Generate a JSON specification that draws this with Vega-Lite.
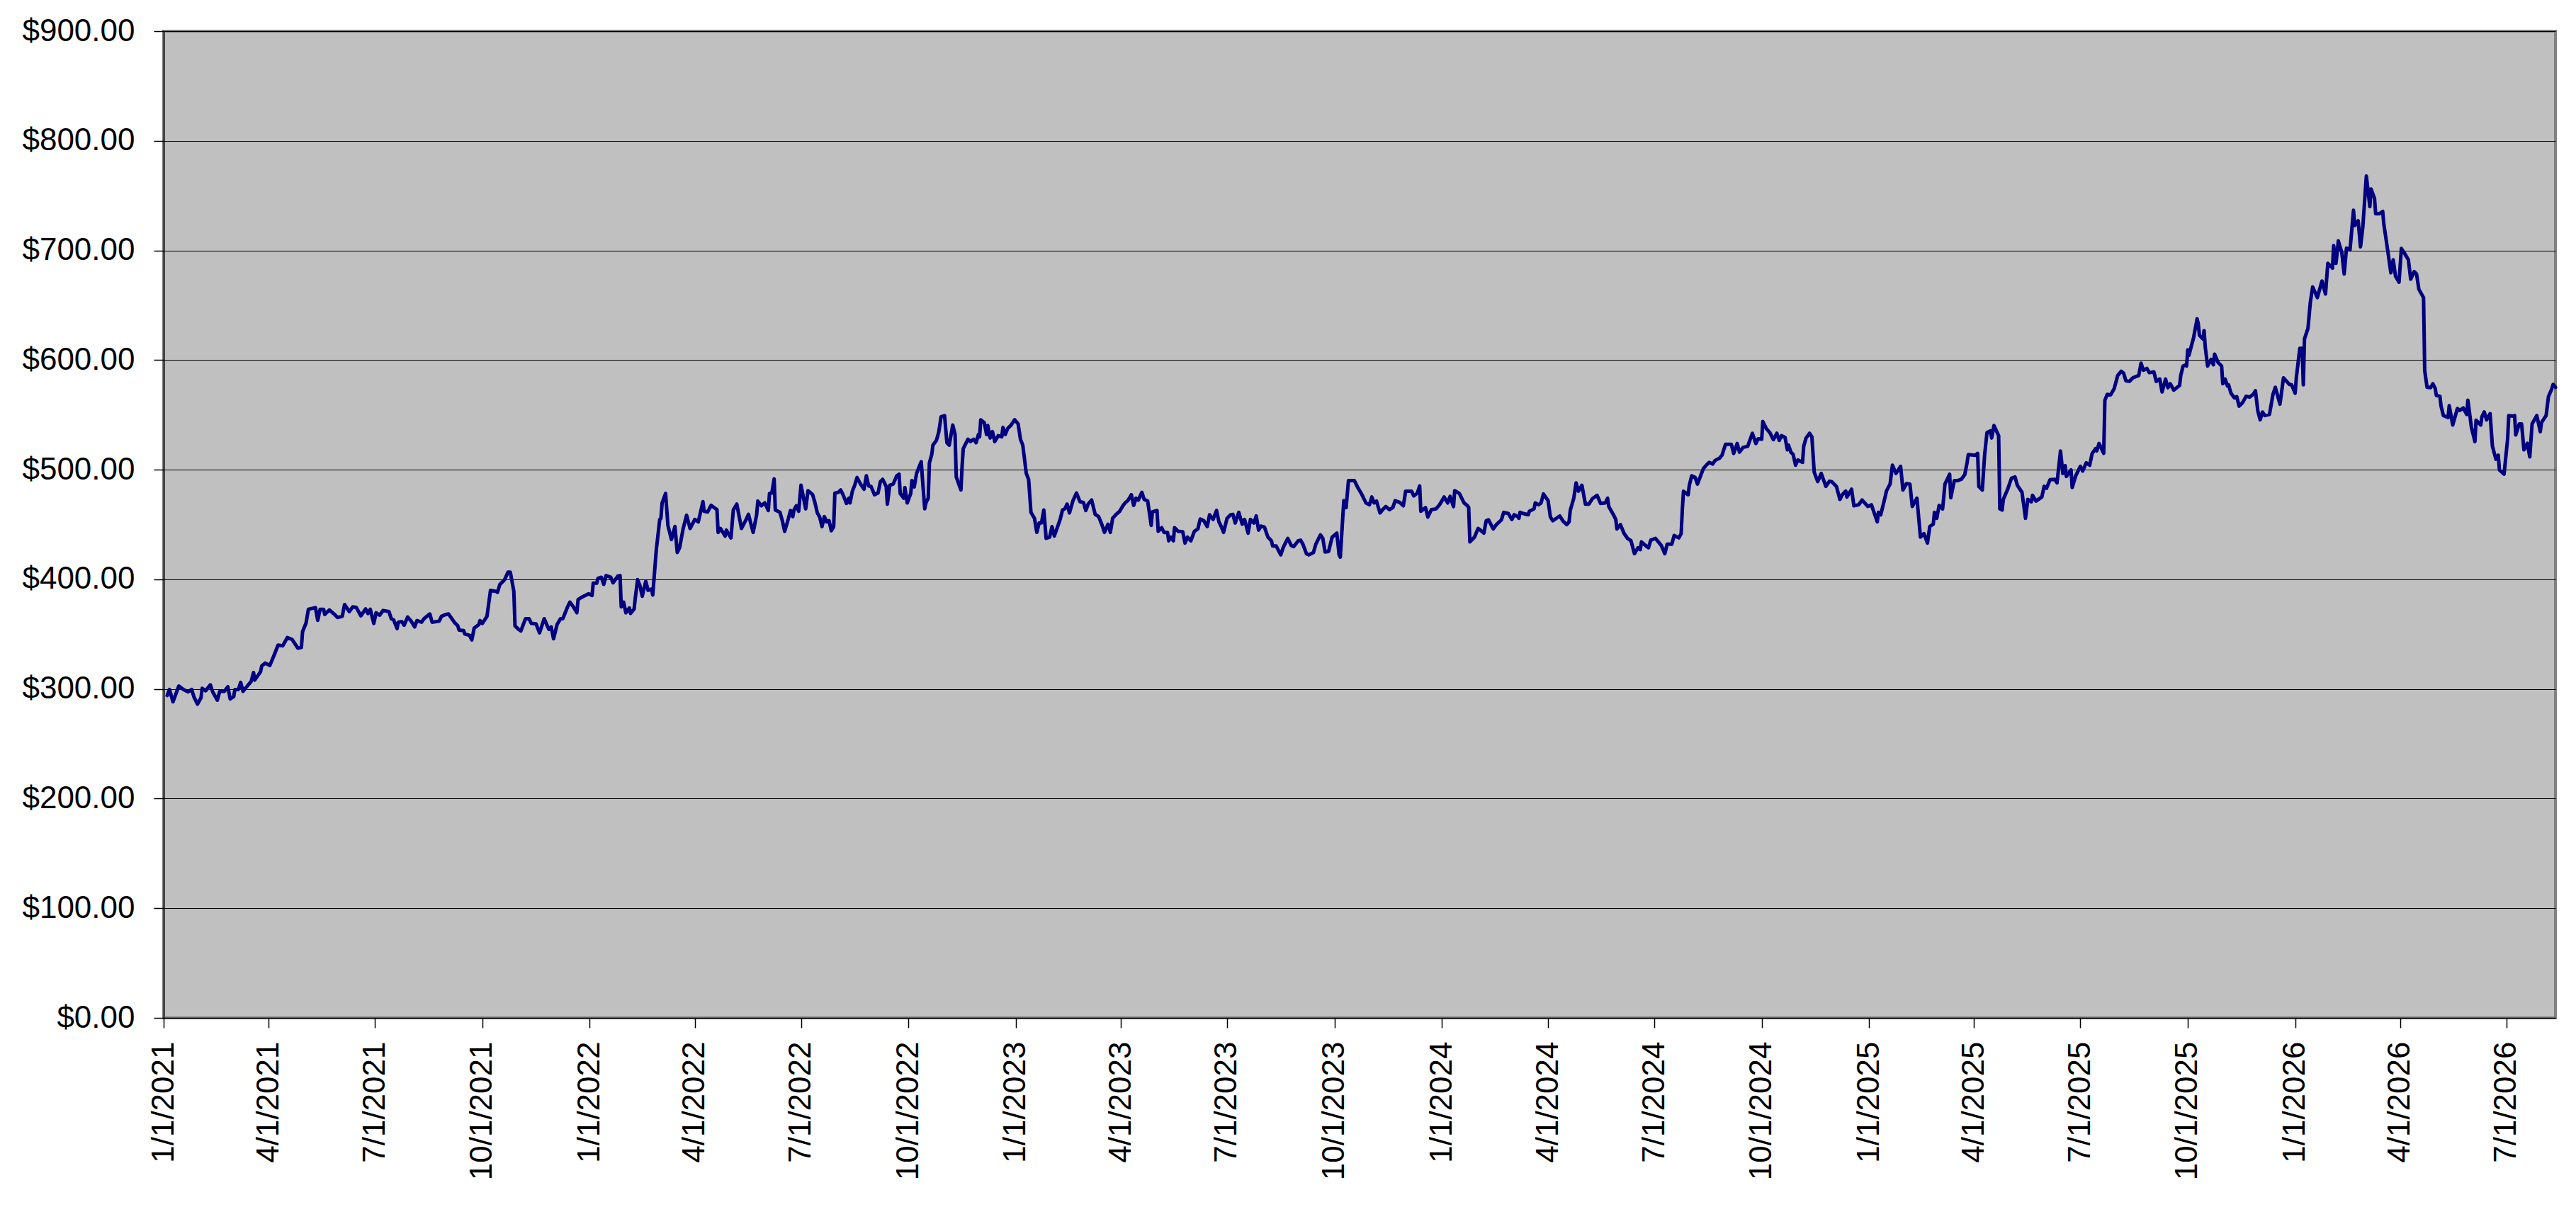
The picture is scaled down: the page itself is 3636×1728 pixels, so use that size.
{
"$schema":"https://vega.github.io/schema/vega-lite/v6.json",
"width":3376,"height":1393,
"autosize":{"type":"none"},
"padding":{"left":231,"top":44,"right":29,"bottom":247},
"background":"white",
"config":{"view":{"fill":"#C0C0C0","stroke":"#808080","strokeWidth":4},"font":"Liberation Sans"},
"data":{"values":[
{"d":"2021/01/04","v":294.1},{"d":"2021/01/06","v":299.5},{"d":"2021/01/09","v":288.3},{"d":"2021/01/14","v":302.7},{"d":"2021/01/18","v":299.5},{"d":"2021/01/22","v":297.4},{"d":"2021/01/25","v":299.5},{"d":"2021/01/27","v":292.6},{"d":"2021/01/30","v":286.2},{"d":"2021/02/02","v":292.0},{"d":"2021/02/03","v":300.6},{"d":"2021/02/06","v":298.4},{"d":"2021/02/10","v":303.8},{"d":"2021/02/12","v":297.4},{"d":"2021/02/16","v":289.8},{"d":"2021/02/18","v":297.8},{"d":"2021/02/22","v":297.8},{"d":"2021/02/25","v":302.1},{"d":"2021/02/27","v":290.9},{"d":"2021/03/02","v":293.0},{"d":"2021/03/03","v":299.5},{"d":"2021/03/06","v":299.5},{"d":"2021/03/08","v":306.0},{"d":"2021/03/10","v":297.8},{"d":"2021/03/12","v":300.6},{"d":"2021/03/17","v":307.0},{"d":"2021/03/19","v":315.0},{"d":"2021/03/20","v":308.1},{"d":"2021/03/25","v":315.7},{"d":"2021/03/26","v":321.0},{"d":"2021/03/29","v":323.6},{"d":"2021/04/02","v":321.5},{"d":"2021/04/06","v":331.8},{"d":"2021/04/09","v":340.0},{"d":"2021/04/13","v":339.3},{"d":"2021/04/17","v":346.9},{"d":"2021/04/21","v":345.2},{"d":"2021/04/26","v":337.2},{"d":"2021/04/29","v":337.8},{"d":"2021/04/30","v":352.3},{"d":"2021/05/03","v":360.2},{"d":"2021/05/05","v":372.7},{"d":"2021/05/11","v":374.2},{"d":"2021/05/13","v":362.6},{"d":"2021/05/15","v":372.7},{"d":"2021/05/18","v":372.7},{"d":"2021/05/19","v":368.0},{"d":"2021/05/23","v":372.1},{"d":"2021/05/27","v":368.4},{"d":"2021/05/30","v":365.2},{"d":"2021/06/03","v":366.3},{"d":"2021/06/05","v":377.0},{"d":"2021/06/09","v":370.6},{"d":"2021/06/12","v":374.9},{"d":"2021/06/15","v":374.4},{"d":"2021/06/19","v":366.7},{"d":"2021/06/23","v":373.1},{"d":"2021/06/25","v":368.8},{"d":"2021/06/27","v":372.7},{"d":"2021/06/30","v":359.8},{"d":"2021/07/02","v":369.5},{"d":"2021/07/05","v":367.3},{"d":"2021/07/08","v":371.6},{"d":"2021/07/13","v":370.6},{"d":"2021/07/15","v":364.1},{"d":"2021/07/17","v":363.0},{"d":"2021/07/20","v":355.1},{"d":"2021/07/21","v":360.9},{"d":"2021/07/24","v":361.5},{"d":"2021/07/26","v":358.1},{"d":"2021/07/29","v":365.6},{"d":"2021/08/01","v":361.9},{"d":"2021/08/04","v":356.6},{"d":"2021/08/06","v":362.4},{"d":"2021/08/10","v":360.9},{"d":"2021/08/12","v":364.1},{"d":"2021/08/17","v":368.4},{"d":"2021/08/19","v":360.9},{"d":"2021/08/25","v":361.9},{"d":"2021/08/27","v":366.3},{"d":"2021/08/31","v":368.0},{"d":"2021/09/02","v":368.4},{"d":"2021/09/07","v":360.9},{"d":"2021/09/10","v":357.6},{"d":"2021/09/11","v":353.8},{"d":"2021/09/15","v":353.3},{"d":"2021/09/16","v":350.1},{"d":"2021/09/20","v":349.0},{"d":"2021/09/22","v":344.7},{"d":"2021/09/24","v":355.5},{"d":"2021/09/28","v":358.7},{"d":"2021/09/29","v":362.4},{"d":"2021/10/01","v":359.8},{"d":"2021/10/05","v":366.3},{"d":"2021/10/08","v":389.9},{"d":"2021/10/13","v":388.9},{"d":"2021/10/14","v":388.2},{"d":"2021/10/16","v":395.3},{"d":"2021/10/20","v":399.6},{"d":"2021/10/23","v":406.5},{"d":"2021/10/25","v":406.5},{"d":"2021/10/28","v":388.9},{"d":"2021/10/29","v":357.6},{"d":"2021/11/01","v":354.4},{"d":"2021/11/03","v":352.9},{"d":"2021/11/07","v":364.1},{"d":"2021/11/10","v":364.1},{"d":"2021/11/12","v":359.8},{"d":"2021/11/16","v":359.4},{"d":"2021/11/19","v":351.2},{"d":"2021/11/23","v":364.1},{"d":"2021/11/27","v":354.4},{"d":"2021/11/29","v":356.6},{"d":"2021/12/01","v":345.8},{"d":"2021/12/04","v":358.7},{"d":"2021/12/07","v":364.1},{"d":"2021/12/09","v":364.1},{"d":"2021/12/13","v":374.9},{"d":"2021/12/15","v":379.2},
{"d":"2021/12/18","v":374.9},{"d":"2021/12/21","v":369.5},{"d":"2021/12/22","v":381.4},{"d":"2021/12/25","v":383.6},{"d":"2021/12/29","v":385.7},{"d":"2021/12/31","v":386.8},{"d":"2022/01/03","v":385.3},{"d":"2022/01/04","v":396.5},{"d":"2022/01/07","v":396.5},{"d":"2022/01/08","v":400.8},{"d":"2022/01/11","v":401.9},{"d":"2022/01/13","v":395.4},{"d":"2022/01/15","v":403.4},{"d":"2022/01/19","v":401.9},{"d":"2022/01/21","v":396.9},{"d":"2022/01/25","v":402.9},{"d":"2022/01/27","v":403.4},{"d":"2022/01/28","v":374.9},{"d":"2022/01/30","v":379.2},{"d":"2022/02/01","v":369.5},{"d":"2022/02/04","v":373.9},{"d":"2022/02/05","v":368.9},{"d":"2022/02/08","v":372.8},{"d":"2022/02/09","v":382.5},{"d":"2022/02/11","v":399.7},{"d":"2022/02/13","v":394.3},{"d":"2022/02/15","v":384.6},{"d":"2022/02/18","v":398.2},{"d":"2022/02/20","v":390.0},{"d":"2022/02/23","v":391.1},{"d":"2022/02/24","v":385.7},{"d":"2022/02/27","v":426.6},{"d":"2022/03/02","v":454.6},{"d":"2022/03/03","v":455.7},{"d":"2022/03/04","v":469.7},{"d":"2022/03/07","v":478.3},{"d":"2022/03/09","v":449.2},{"d":"2022/03/12","v":436.3},{"d":"2022/03/15","v":448.2},{"d":"2022/03/17","v":424.5},{"d":"2022/03/19","v":428.8},{"d":"2022/03/22","v":446.0},{"d":"2022/03/25","v":458.5},{"d":"2022/03/28","v":446.4},{"d":"2022/04/01","v":454.6},{"d":"2022/04/04","v":452.4},{"d":"2022/04/08","v":470.8},{"d":"2022/04/09","v":462.1},{"d":"2022/04/12","v":461.5},{"d":"2022/04/15","v":467.5},{"d":"2022/04/20","v":463.6},{"d":"2022/04/21","v":442.8},{"d":"2022/04/23","v":446.4},{"d":"2022/04/27","v":439.5},{"d":"2022/04/28","v":444.9},{"d":"2022/05/02","v":437.8},{"d":"2022/05/04","v":463.2},{"d":"2022/05/07","v":468.6},{"d":"2022/05/11","v":446.4},{"d":"2022/05/15","v":454.6},{"d":"2022/05/17","v":459.3},{"d":"2022/05/21","v":442.8},{"d":"2022/05/24","v":458.9},{"d":"2022/05/25","v":471.4},{"d":"2022/05/28","v":467.1},{"d":"2022/05/31","v":469.7},{"d":"2022/06/03","v":462.8},{"d":"2022/06/04","v":478.3},{"d":"2022/06/06","v":478.7},{"d":"2022/06/08","v":491.6},{"d":"2022/06/09","v":463.2},{"d":"2022/06/13","v":461.1},{"d":"2022/06/15","v":453.5},{"d":"2022/06/17","v":443.8},{"d":"2022/06/20","v":454.6},{"d":"2022/06/22","v":462.8},{"d":"2022/06/24","v":457.2},{"d":"2022/06/25","v":463.2},{"d":"2022/06/27","v":467.1},{"d":"2022/06/29","v":462.1},{"d":"2022/07/01","v":485.8},{"d":"2022/07/05","v":464.3},{"d":"2022/07/07","v":480.9},{"d":"2022/07/11","v":477.2},{"d":"2022/07/13","v":469.7},{"d":"2022/07/15","v":460.6},{"d":"2022/07/17","v":456.8},{"d":"2022/07/19","v":448.1},{"d":"2022/07/21","v":457.2},{"d":"2022/07/23","v":452.5},{"d":"2022/07/25","v":453.5},{"d":"2022/07/27","v":444.3},{"d":"2022/07/29","v":448.1},{"d":"2022/07/30","v":478.7},{"d":"2022/08/02","v":479.4},{"d":"2022/08/04","v":481.5},{"d":"2022/08/06","v":477.2},{"d":"2022/08/09","v":469.2},{"d":"2022/08/11","v":474.0},{"d":"2022/08/12","v":469.7},{"d":"2022/08/14","v":480.4},{"d":"2022/08/16","v":485.8},{"d":"2022/08/18","v":492.9},{"d":"2022/08/21","v":486.9},{"d":"2022/08/24","v":482.2},{"d":"2022/08/26","v":494.4},{"d":"2022/08/28","v":485.2},{"d":"2022/08/30","v":484.7},{"d":"2022/09/02","v":477.2},{"d":"2022/09/05","v":478.7},{"d":"2022/09/07","v":489.1},{"d":"2022/09/09","v":491.2},{"d":"2022/09/12","v":484.7},{"d":"2022/09/13","v":468.6},{"d":"2022/09/15","v":485.8},{"d":"2022/09/18","v":486.9},{"d":"2022/09/21","v":494.4},{"d":"2022/09/23","v":495.9},{"d":"2022/09/24","v":478.3},{"d":"2022/09/27","v":474.0},{"d":"2022/09/28","v":483.7},{"d":"2022/09/30","v":469.7},{"d":"2022/10/03","v":478.3},{"d":"2022/10/04","v":490.1},{"d":"2022/10/06","v":484.3},{"d":"2022/10/08","v":496.6},{"d":"2022/10/10","v":502.0},{"d":"2022/10/12","v":507.3},{"d":"2022/10/13","v":492.3},{"d":"2022/10/15","v":464.3},{"d":"2022/10/16","v":469.7},{"d":"2022/10/18","v":474.0},{"d":"2022/10/19","v":506.3},{"d":"2022/10/21","v":513.8},{"d":"2022/10/22","v":522.4},{"d":"2022/10/25","v":526.7},{"d":"2022/10/27","v":534.3},{"d":"2022/10/29","v":548.3},{"d":"2022/11/01","v":549.3},{"d":"2022/11/03","v":524.6},{"d":"2022/11/05","v":522.4},{"d":"2022/11/08","v":540.7},{"d":"2022/11/10","v":532.1},{"d":"2022/11/11","v":493.4},{"d":"2022/11/15","v":481.5},{"d":"2022/11/16","v":503.1},{"d":"2022/11/17","v":519.2},{"d":"2022/11/21","v":527.8},{"d":"2022/11/23","v":525.7},
{"d":"2022/11/26","v":527.8},{"d":"2022/11/28","v":524.6},{"d":"2022/11/30","v":532.1},{"d":"2022/12/01","v":530.0},{"d":"2022/12/02","v":545.5},{"d":"2022/12/05","v":542.9},{"d":"2022/12/07","v":532.1},{"d":"2022/12/08","v":540.3},{"d":"2022/12/10","v":528.9},{"d":"2022/12/12","v":534.7},{"d":"2022/12/14","v":525.7},{"d":"2022/12/17","v":531.0},{"d":"2022/12/20","v":530.0},{"d":"2022/12/21","v":538.6},{"d":"2022/12/23","v":532.1},{"d":"2022/12/25","v":537.5},{"d":"2022/12/28","v":540.7},{"d":"2022/12/31","v":545.5},{"d":"2023/01/03","v":541.8},{"d":"2023/01/05","v":527.8},{"d":"2023/01/07","v":522.4},{"d":"2023/01/10","v":496.6},{"d":"2023/01/12","v":491.2},{"d":"2023/01/14","v":461.1},{"d":"2023/01/17","v":455.7},{"d":"2023/01/19","v":442.8},{"d":"2023/01/21","v":451.4},{"d":"2023/01/23","v":451.4},{"d":"2023/01/25","v":463.2},{"d":"2023/01/27","v":437.4},{"d":"2023/01/30","v":438.5},{"d":"2023/02/01","v":448.1},{"d":"2023/02/03","v":439.5},{"d":"2023/02/08","v":454.6},{"d":"2023/02/10","v":463.2},{"d":"2023/02/12","v":464.3},{"d":"2023/02/14","v":468.6},{"d":"2023/02/16","v":460.6},{"d":"2023/02/19","v":471.8},{"d":"2023/02/22","v":478.7},{"d":"2023/02/25","v":470.8},{"d":"2023/02/28","v":470.1},{"d":"2023/03/02","v":462.8},{"d":"2023/03/04","v":468.6},{"d":"2023/03/07","v":472.3},{"d":"2023/03/10","v":459.3},{"d":"2023/03/13","v":457.2},{"d":"2023/03/16","v":449.2},{"d":"2023/03/18","v":442.8},{"d":"2023/03/21","v":450.3},{"d":"2023/03/23","v":442.8},{"d":"2023/03/25","v":455.7},{"d":"2023/03/28","v":459.3},{"d":"2023/03/31","v":462.1},{"d":"2023/04/03","v":467.5},{"d":"2023/04/05","v":470.1},{"d":"2023/04/07","v":471.8},{"d":"2023/04/10","v":477.2},{"d":"2023/04/12","v":467.5},{"d":"2023/04/14","v":474.0},{"d":"2023/04/16","v":472.3},{"d":"2023/04/19","v":479.4},{"d":"2023/04/21","v":472.9},{"d":"2023/04/24","v":471.4},{"d":"2023/04/27","v":449.2},{"d":"2023/04/28","v":461.5},{"d":"2023/05/02","v":462.8},{"d":"2023/05/03","v":443.8},{"d":"2023/05/06","v":447.1},{"d":"2023/05/08","v":442.8},{"d":"2023/05/11","v":442.8},{"d":"2023/05/12","v":435.2},{"d":"2023/05/14","v":438.5},{"d":"2023/05/16","v":435.2},{"d":"2023/05/17","v":447.1},{"d":"2023/05/20","v":443.8},{"d":"2023/05/24","v":443.4},{"d":"2023/05/26","v":433.1},{"d":"2023/05/28","v":438.5},{"d":"2023/05/31","v":435.2},{"d":"2023/06/03","v":443.8},{"d":"2023/06/06","v":446.0},{"d":"2023/06/08","v":455.0},{"d":"2023/06/11","v":453.5},{"d":"2023/06/14","v":448.1},{"d":"2023/06/16","v":458.9},{"d":"2023/06/19","v":454.6},{"d":"2023/06/22","v":462.8},{"d":"2023/06/24","v":452.5},{"d":"2023/06/26","v":448.1},{"d":"2023/06/28","v":442.8},{"d":"2023/07/01","v":455.7},{"d":"2023/07/04","v":458.9},{"d":"2023/07/06","v":459.3},{"d":"2023/07/08","v":451.4},{"d":"2023/07/11","v":461.1},{"d":"2023/07/14","v":450.3},{"d":"2023/07/16","v":454.6},{"d":"2023/07/19","v":442.1},{"d":"2023/07/21","v":454.6},{"d":"2023/07/24","v":451.4},{"d":"2023/07/26","v":457.8},{"d":"2023/07/28","v":444.9},{"d":"2023/07/30","v":448.6},{"d":"2023/08/02","v":447.7},{"d":"2023/08/05","v":438.5},{"d":"2023/08/08","v":435.2},{"d":"2023/08/09","v":430.5},{"d":"2023/08/12","v":430.5},{"d":"2023/08/16","v":422.3},{"d":"2023/08/18","v":428.8},{"d":"2023/08/22","v":437.4},{"d":"2023/08/25","v":430.9},{"d":"2023/08/27","v":429.8},{"d":"2023/08/31","v":435.2},{"d":"2023/09/02","v":435.7},{"d":"2023/09/04","v":432.0},{"d":"2023/09/07","v":423.4},{"d":"2023/09/09","v":422.3},{"d":"2023/09/13","v":424.5},{"d":"2023/09/15","v":432.0},{"d":"2023/09/19","v":440.6},{"d":"2023/09/21","v":437.4},{"d":"2023/09/23","v":424.9},{"d":"2023/09/26","v":425.5},{"d":"2023/09/29","v":438.5},{"d":"2023/10/03","v":442.1},{"d":"2023/10/05","v":422.3},{"d":"2023/10/06","v":420.2},{"d":"2023/10/09","v":471.8},{"d":"2023/10/11","v":465.4},{"d":"2023/10/13","v":490.1},{"d":"2023/10/18","v":490.1},{"d":"2023/10/21","v":483.7},{"d":"2023/10/24","v":478.3},{"d":"2023/10/28","v":469.7},{"d":"2023/10/31","v":468.0},{"d":"2023/11/02","v":475.1},{"d":"2023/11/04","v":469.7},
{"d":"2023/11/06","v":471.4},{"d":"2023/11/09","v":460.6},{"d":"2023/11/11","v":463.2},{"d":"2023/11/14","v":466.4},{"d":"2023/11/17","v":463.6},{"d":"2023/11/20","v":465.4},{"d":"2023/11/22","v":471.8},{"d":"2023/11/26","v":470.1},{"d":"2023/11/29","v":467.1},{"d":"2023/12/01","v":480.4},{"d":"2023/12/06","v":480.4},{"d":"2023/12/08","v":476.1},{"d":"2023/12/11","v":478.7},{"d":"2023/12/13","v":485.2},{"d":"2023/12/14","v":462.1},{"d":"2023/12/18","v":465.4},{"d":"2023/12/20","v":456.8},{"d":"2023/12/23","v":463.6},{"d":"2023/12/27","v":464.3},{"d":"2023/12/30","v":468.0},{"d":"2024/01/03","v":475.1},{"d":"2024/01/06","v":469.7},{"d":"2024/01/08","v":475.7},{"d":"2024/01/11","v":466.4},{"d":"2024/01/12","v":480.9},{"d":"2024/01/16","v":478.3},{"d":"2024/01/20","v":469.7},{"d":"2024/01/23","v":467.1},{"d":"2024/01/24","v":465.4},{"d":"2024/01/25","v":434.1},{"d":"2024/01/29","v":438.5},{"d":"2024/02/01","v":446.4},{"d":"2024/02/03","v":444.9},{"d":"2024/02/06","v":442.1},{"d":"2024/02/08","v":453.5},{"d":"2024/02/10","v":454.2},{"d":"2024/02/14","v":446.0},{"d":"2024/02/17","v":450.3},{"d":"2024/02/21","v":454.2},{"d":"2024/02/23","v":461.1},{"d":"2024/02/27","v":460.0},{"d":"2024/03/01","v":454.6},{"d":"2024/03/03","v":458.9},{"d":"2024/03/06","v":457.2},{"d":"2024/03/07","v":455.7},{"d":"2024/03/08","v":461.1},{"d":"2024/03/11","v":460.0},{"d":"2024/03/15","v":458.9},{"d":"2024/03/16","v":462.1},{"d":"2024/03/20","v":464.3},{"d":"2024/03/21","v":469.7},{"d":"2024/03/24","v":468.0},{"d":"2024/03/26","v":469.7},{"d":"2024/03/28","v":477.9},{"d":"2024/04/01","v":471.8},{"d":"2024/04/03","v":456.8},{"d":"2024/04/05","v":453.5},{"d":"2024/04/09","v":456.3},{"d":"2024/04/11","v":457.8},{"d":"2024/04/14","v":452.9},{"d":"2024/04/17","v":449.9},{"d":"2024/04/19","v":452.5},{"d":"2024/04/20","v":462.8},{"d":"2024/04/23","v":474.0},{"d":"2024/04/25","v":488.0},{"d":"2024/04/27","v":480.4},{"d":"2024/04/30","v":485.8},{"d":"2024/05/03","v":468.6},{"d":"2024/05/06","v":468.6},{"d":"2024/05/09","v":473.6},{"d":"2024/05/13","v":476.6},{"d":"2024/05/16","v":469.2},{"d":"2024/05/20","v":469.7},{"d":"2024/05/22","v":474.0},{"d":"2024/05/23","v":466.4},{"d":"2024/05/27","v":458.9},{"d":"2024/05/29","v":454.6},{"d":"2024/05/30","v":446.0},{"d":"2024/06/02","v":449.9},{"d":"2024/06/05","v":442.1},{"d":"2024/06/08","v":437.4},{"d":"2024/06/11","v":435.2},{"d":"2024/06/14","v":423.4},{"d":"2024/06/17","v":428.8},{"d":"2024/06/19","v":427.1},{"d":"2024/06/20","v":434.1},{"d":"2024/06/23","v":431.3},{"d":"2024/06/26","v":428.8},{"d":"2024/06/28","v":435.7},{"d":"2024/07/02","v":437.4},{"d":"2024/07/07","v":430.9},{"d":"2024/07/10","v":423.4},{"d":"2024/07/12","v":432.0},{"d":"2024/07/16","v":432.0},{"d":"2024/07/18","v":440.0},{"d":"2024/07/22","v":437.8},{"d":"2024/07/24","v":441.7},{"d":"2024/07/25","v":463.2},{"d":"2024/07/26","v":480.4},{"d":"2024/07/30","v":477.2},{"d":"2024/07/31","v":485.8},{"d":"2024/08/02","v":494.4},{"d":"2024/08/05","v":492.9},{"d":"2024/08/07","v":486.9},{"d":"2024/08/12","v":500.9},{"d":"2024/08/15","v":504.6},{"d":"2024/08/17","v":506.7},{"d":"2024/08/20","v":505.2},{"d":"2024/08/22","v":508.4},{"d":"2024/08/26","v":510.6},{"d":"2024/08/28","v":513.2},{"d":"2024/08/31","v":523.1},{"d":"2024/09/05","v":523.1},{"d":"2024/09/07","v":514.9},{"d":"2024/09/10","v":523.9},{"d":"2024/09/12","v":516.0},{"d":"2024/09/15","v":520.3},{"d":"2024/09/19","v":521.3},{"d":"2024/09/23","v":533.2},{"d":"2024/09/26","v":523.9},{"d":"2024/09/28","v":528.2},{"d":"2024/10/01","v":527.8},{"d":"2024/10/02","v":544.0},{"d":"2024/10/05","v":537.5},{"d":"2024/10/08","v":533.8},{"d":"2024/10/11","v":527.4},{"d":"2024/10/14","v":533.2},{"d":"2024/10/16","v":526.7},
{"d":"2024/10/18","v":531.0},{"d":"2024/10/21","v":529.5},{"d":"2024/10/23","v":518.1},{"d":"2024/10/24","v":522.4},{"d":"2024/10/26","v":516.0},{"d":"2024/10/28","v":513.8},{"d":"2024/10/30","v":504.1},{"d":"2024/11/01","v":508.9},{"d":"2024/11/05","v":506.7},{"d":"2024/11/06","v":521.4},{"d":"2024/11/08","v":528.9},{"d":"2024/11/11","v":533.2},{"d":"2024/11/13","v":530.0},{"d":"2024/11/15","v":497.7},{"d":"2024/11/18","v":489.1},{"d":"2024/11/21","v":496.6},{"d":"2024/11/25","v":484.8},{"d":"2024/11/28","v":489.5},{"d":"2024/11/30","v":489.1},{"d":"2024/12/04","v":484.8},{"d":"2024/12/07","v":472.9},{"d":"2024/12/09","v":477.2},{"d":"2024/12/12","v":480.5},{"d":"2024/12/13","v":475.1},{"d":"2024/12/17","v":482.2},{"d":"2024/12/19","v":467.1},{"d":"2024/12/23","v":468.0},{"d":"2024/12/26","v":472.3},{"d":"2024/12/31","v":466.5},{"d":"2025/01/03","v":468.0},{"d":"2025/01/08","v":452.5},{"d":"2025/01/09","v":461.1},{"d":"2025/01/11","v":458.9},{"d":"2025/01/14","v":471.8},{"d":"2025/01/16","v":480.9},{"d":"2025/01/19","v":486.9},{"d":"2025/01/21","v":504.1},{"d":"2025/01/24","v":496.6},{"d":"2025/01/28","v":503.1},{"d":"2025/01/30","v":481.5},{"d":"2025/02/02","v":487.3},{"d":"2025/02/05","v":486.9},{"d":"2025/02/07","v":466.5},{"d":"2025/02/11","v":474.0},{"d":"2025/02/14","v":438.5},{"d":"2025/02/17","v":441.7},{"d":"2025/02/20","v":433.1},{"d":"2025/02/22","v":448.2},{"d":"2025/02/25","v":450.3},{"d":"2025/02/26","v":461.1},{"d":"2025/02/28","v":455.7},{"d":"2025/03/02","v":467.5},{"d":"2025/03/05","v":464.3},{"d":"2025/03/07","v":486.9},{"d":"2025/03/11","v":495.9},{"d":"2025/03/12","v":474.4},{"d":"2025/03/15","v":490.1},{"d":"2025/03/18","v":490.1},{"d":"2025/03/21","v":491.2},{"d":"2025/03/24","v":495.5},{"d":"2025/03/26","v":506.7},{"d":"2025/03/27","v":513.8},{"d":"2025/04/02","v":513.2},{"d":"2025/04/04","v":514.9},{"d":"2025/04/05","v":484.8},{"d":"2025/04/08","v":481.5},{"d":"2025/04/10","v":513.8},{"d":"2025/04/12","v":533.8},{"d":"2025/04/15","v":535.4},{"d":"2025/04/16","v":528.9},{"d":"2025/04/18","v":540.3},{"d":"2025/04/22","v":531.0},{"d":"2025/04/23","v":464.3},{"d":"2025/04/25","v":463.2},{"d":"2025/04/26","v":472.9},{"d":"2025/04/30","v":483.0},{"d":"2025/05/03","v":492.3},{"d":"2025/05/06","v":493.4},{"d":"2025/05/08","v":485.8},{"d":"2025/05/12","v":479.4},{"d":"2025/05/15","v":455.7},{"d":"2025/05/17","v":472.9},{"d":"2025/05/20","v":470.8},{"d":"2025/05/21","v":476.6},{"d":"2025/05/24","v":471.4},{"d":"2025/05/29","v":475.1},{"d":"2025/05/31","v":484.8},{"d":"2025/06/02","v":483.0},{"d":"2025/06/05","v":490.8},{"d":"2025/06/09","v":491.2},{"d":"2025/06/11","v":488.0},{"d":"2025/06/14","v":517.1},{"d":"2025/06/16","v":496.6},{"d":"2025/06/18","v":503.7},{"d":"2025/06/19","v":493.8},{"d":"2025/06/23","v":499.8},{"d":"2025/06/24","v":483.7},{"d":"2025/06/27","v":494.4},{"d":"2025/07/01","v":503.1},{"d":"2025/07/03","v":498.8},{"d":"2025/07/06","v":506.3},{"d":"2025/07/09","v":504.1},{"d":"2025/07/11","v":514.5},{"d":"2025/07/14","v":519.2},{"d":"2025/07/15","v":517.1},{"d":"2025/07/17","v":523.9},{"d":"2025/07/21","v":514.9},{"d":"2025/07/22","v":563.3},{"d":"2025/07/24","v":568.7},{"d":"2025/07/27","v":568.3},{"d":"2025/07/30","v":574.1},{"d":"2025/08/02","v":585.9},{"d":"2025/08/05","v":589.8},{"d":"2025/08/07","v":588.1},{"d":"2025/08/09","v":581.2},{"d":"2025/08/12","v":580.6},{"d":"2025/08/15","v":583.8},{"d":"2025/08/20","v":585.9},{"d":"2025/08/22","v":597.1},{"d":"2025/08/24","v":590.7},{"d":"2025/08/27","v":592.4},{"d":"2025/08/29","v":588.5},{"d":"2025/09/02","v":589.2},{"d":"2025/09/04","v":580.6},{"d":"2025/09/07","v":582.7},{"d":"2025/09/09","v":570.9},{"d":"2025/09/12","v":582.7},{"d":"2025/09/14","v":574.8},{"d":"2025/09/16","v":578.4},{"d":"2025/09/19","v":572.6},{"d":"2025/09/24","v":576.9},{"d":"2025/09/25","v":585.9},{"d":"2025/09/27","v":594.6},{"d":"2025/09/29","v":595.6},
{"d":"2025/09/30","v":594.6},{"d":"2025/10/01","v":609.2},{"d":"2025/10/02","v":604.3},{"d":"2025/10/06","v":620.4},{"d":"2025/10/09","v":637.6},{"d":"2025/10/10","v":633.3},{"d":"2025/10/11","v":622.6},{"d":"2025/10/14","v":619.3},{"d":"2025/10/15","v":626.9},{"d":"2025/10/16","v":611.8},{"d":"2025/10/18","v":594.6},{"d":"2025/10/21","v":600.6},{"d":"2025/10/23","v":595.7},{"d":"2025/10/24","v":605.4},{"d":"2025/10/27","v":597.8},{"d":"2025/10/30","v":594.6},{"d":"2025/10/31","v":578.4},{"d":"2025/11/02","v":582.7},{"d":"2025/11/04","v":576.3},{"d":"2025/11/05","v":577.4},{"d":"2025/11/07","v":569.8},{"d":"2025/11/10","v":565.5},{"d":"2025/11/12","v":566.6},{"d":"2025/11/14","v":558.0},{"d":"2025/11/17","v":561.2},{"d":"2025/11/20","v":567.0},{"d":"2025/11/23","v":566.2},{"d":"2025/11/26","v":568.7},{"d":"2025/11/28","v":572.0},{"d":"2025/11/30","v":553.7},{"d":"2025/12/02","v":545.5},{"d":"2025/12/04","v":552.6},{"d":"2025/12/06","v":549.4},{"d":"2025/12/10","v":550.4},{"d":"2025/12/13","v":568.7},{"d":"2025/12/15","v":575.2},{"d":"2025/12/19","v":559.7},{"d":"2025/12/22","v":583.8},{"d":"2025/12/27","v":577.8},{"d":"2025/12/29","v":577.4},{"d":"2026/01/01","v":569.8},{"d":"2026/01/02","v":583.8},{"d":"2026/01/05","v":610.7},{"d":"2026/01/07","v":610.7},{"d":"2026/01/08","v":577.4},{"d":"2026/01/09","v":619.3},{"d":"2026/01/11","v":625.8},{"d":"2026/01/12","v":629.0},{"d":"2026/01/14","v":652.7},{"d":"2026/01/16","v":666.7},{"d":"2026/01/20","v":657.0},{"d":"2026/01/24","v":672.1},{"d":"2026/01/27","v":660.3},{"d":"2026/01/29","v":688.2},{"d":"2026/02/02","v":683.9},{"d":"2026/02/03","v":704.4},{"d":"2026/02/05","v":688.2},{"d":"2026/02/07","v":708.7},{"d":"2026/02/10","v":697.9},{"d":"2026/02/12","v":678.5},{"d":"2026/02/14","v":702.2},{"d":"2026/02/17","v":700.5},{"d":"2026/02/20","v":736.7},{"d":"2026/02/21","v":722.7},{"d":"2026/02/24","v":727.0},{"d":"2026/02/26","v":703.3},{"d":"2026/02/28","v":721.6},{"d":"2026/03/03","v":767.9},{"d":"2026/03/06","v":739.9},{"d":"2026/03/07","v":756.1},{"d":"2026/03/10","v":747.4},{"d":"2026/03/11","v":733.4},{"d":"2026/03/14","v":733.4},{"d":"2026/03/17","v":735.6},{"d":"2026/03/18","v":723.8},{"d":"2026/03/21","v":702.2},{"d":"2026/03/24","v":679.6},{"d":"2026/03/26","v":691.5},{"d":"2026/03/28","v":676.4},{"d":"2026/03/31","v":671.0},{"d":"2026/04/02","v":701.8},{"d":"2026/04/05","v":696.9},{"d":"2026/04/08","v":691.5},{"d":"2026/04/10","v":673.8},{"d":"2026/04/13","v":680.7},{"d":"2026/04/15","v":678.5},{"d":"2026/04/17","v":664.6},{"d":"2026/04/21","v":657.0},{"d":"2026/04/22","v":590.3},{"d":"2026/04/24","v":575.2},{"d":"2026/04/27","v":574.8},{"d":"2026/04/29","v":578.4},{"d":"2026/05/01","v":574.1},{"d":"2026/05/02","v":567.7},{"d":"2026/05/05","v":567.0},{"d":"2026/05/06","v":558.0},{"d":"2026/05/08","v":549.4},{"d":"2026/05/12","v":547.6},{"d":"2026/05/13","v":558.4},{"d":"2026/05/16","v":540.8},{"d":"2026/05/20","v":555.8},{"d":"2026/05/22","v":554.1},{"d":"2026/05/25","v":556.3},{"d":"2026/05/28","v":550.4},{"d":"2026/05/29","v":563.4},{"d":"2026/06/01","v":538.6},{"d":"2026/06/04","v":525.7},{"d":"2026/06/05","v":545.1},{"d":"2026/06/09","v":540.8},{"d":"2026/06/10","v":548.3},{"d":"2026/06/12","v":552.6},{"d":"2026/06/14","v":545.5},{"d":"2026/06/17","v":551.1},{"d":"2026/06/19","v":521.4},{"d":"2026/06/22","v":509.5},{"d":"2026/06/24","v":513.2},{"d":"2026/06/25","v":499.8},{"d":"2026/06/29","v":496.0},{"d":"2026/07/02","v":527.8},{"d":"2026/07/03","v":549.4},{"d":"2026/07/07","v":548.9},{"d":"2026/07/08","v":549.4},{"d":"2026/07/09","v":531.7},{"d":"2026/07/12","v":541.8},{"d":"2026/07/14","v":541.8},{"d":"2026/07/16","v":518.1},{"d":"2026/07/19","v":524.0},{"d":"2026/07/21","v":511.7},{"d":"2026/07/23","v":541.8},{"d":"2026/07/27","v":549.4},{"d":"2026/07/30","v":534.7},{"d":"2026/07/31","v":542.9},{"d":"2026/08/04","v":549.4},{"d":"2026/08/05","v":558.0},{"d":"2026/08/06","v":566.6},{"d":"2026/08/09","v":574.1},{"d":"2026/08/10","v":577.8},{"d":"2026/08/12","v":575.2}
]},
"mark":{"type":"line","color":"#000080","strokeWidth":5,"strokeJoin":"round","strokeCap":"round"},
"encoding":{
"x":{"field":"d","type":"temporal","title":null,
"scale":{"domain":[{"year":2021,"month":1,"date":1},{"year":2026,"month":8,"date":12}],"nice":false},
"axis":{"tickCount":{"interval":"month","step":3},"format":"%-m/%-d/%Y","labelAngle":-90,"labelFont":"Liberation Sans","labelFontSize":44,"labelColor":"#000000","labelPadding":19,"labelLimit":0,"tickSize":14,"tickColor":"#000000","tickWidth":1.5,"domainColor":"#000000","domainWidth":1.5,"grid":false,"labelOverlap":false,"labelFlush":false,"labelBound":false}},
"y":{"field":"v","type":"quantitative","title":null,
"scale":{"domain":[0,900],"nice":false,"zero":true},
"axis":{"values":[0,100,200,300,400,500,600,700,800,900],"format":"$.2f","labelFont":"Liberation Sans","labelFontSize":44,"labelColor":"#000000","labelPadding":27,"labelLimit":0,"tickSize":14,"tickColor":"#000000","tickWidth":1.5,"domainColor":"#000000","domainWidth":1.5,"grid":true,"gridColor":"#000000","gridWidth":1.2,"labelOverlap":false,"labelFlush":false,"labelBound":false}}
}
}
